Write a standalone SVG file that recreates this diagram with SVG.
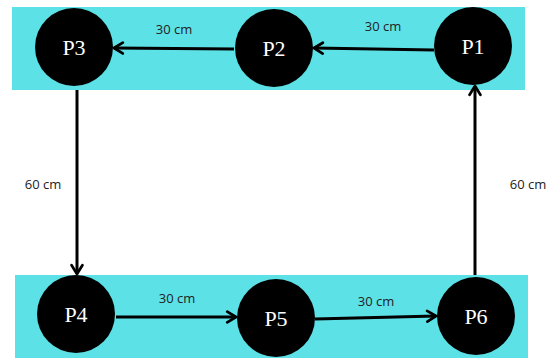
<svg xmlns="http://www.w3.org/2000/svg" width="553" height="358" viewBox="0 0 553 358">
  <defs>
    <style>
      .band { fill: #5ce1e6; }
      .node circle { fill: #000; }
      .node text { fill: #fff; font-family: "Liberation Serif", "Times New Roman", serif; font-size: 22px; text-anchor: middle; dominant-baseline: central; }
      .edge { stroke: #000; stroke-width: 3; fill: none; marker-end: url(#chev); }
      .lbl { fill: #222; font-family: "Open Sans", "Liberation Sans", sans-serif; font-size: 13px; text-anchor: middle; dominant-baseline: central; }
    </style>
    <marker id="chev" viewBox="0 0 10 10" refX="8.5" refY="5" markerWidth="4.5" markerHeight="4.5" orient="auto" markerUnits="strokeWidth">
      <path d="M2,1 L8.5,5 L2,9" fill="none" stroke="#000" stroke-width="2" stroke-linecap="round" stroke-linejoin="round"/>
    </marker>
  </defs>

  <!-- rows -->
  <rect class="band" x="12" y="7" width="513" height="83"/>
  <rect class="band" x="15" y="275" width="513" height="83"/>

  <!-- connectors -->
  <g id="connectors">
    <path class="edge" d="M434,50 L314,48"/>
    <path class="edge" d="M234,49 L114,48"/>
    <path class="edge" d="M77,90 L77,274"/>
    <path class="edge" d="M116,317 L236,317"/>
    <path class="edge" d="M315,319 L436,316"/>
    <path class="edge" d="M475,275 L475,86"/>
    <text class="lbl" x="174" y="29">30 cm</text>
    <text class="lbl" x="383" y="26">30 cm</text>
    <text class="lbl" x="43" y="184">60 cm</text>
    <text class="lbl" x="528" y="184">60 cm</text>
    <text class="lbl" x="177" y="298">30 cm</text>
    <text class="lbl" x="376" y="301">30 cm</text>
  </g>

  <!-- nodes -->
  <g id="P1" class="node"><circle cx="473" cy="46" r="39"/><text x="473" y="46">P1</text></g>
  <g id="P2" class="node"><circle cx="274" cy="48" r="39"/><text x="274" y="48">P2</text></g>
  <g id="P3" class="node"><circle cx="74" cy="47" r="39"/><text x="74" y="47">P3</text></g>
  <g id="P4" class="node"><circle cx="76" cy="314" r="39"/><text x="76" y="314">P4</text></g>
  <g id="P5" class="node"><circle cx="276" cy="318" r="39"/><text x="276" y="318">P5</text></g>
  <g id="P6" class="node"><circle cx="476" cy="316" r="39"/><text x="476" y="316">P6</text></g>
</svg>
